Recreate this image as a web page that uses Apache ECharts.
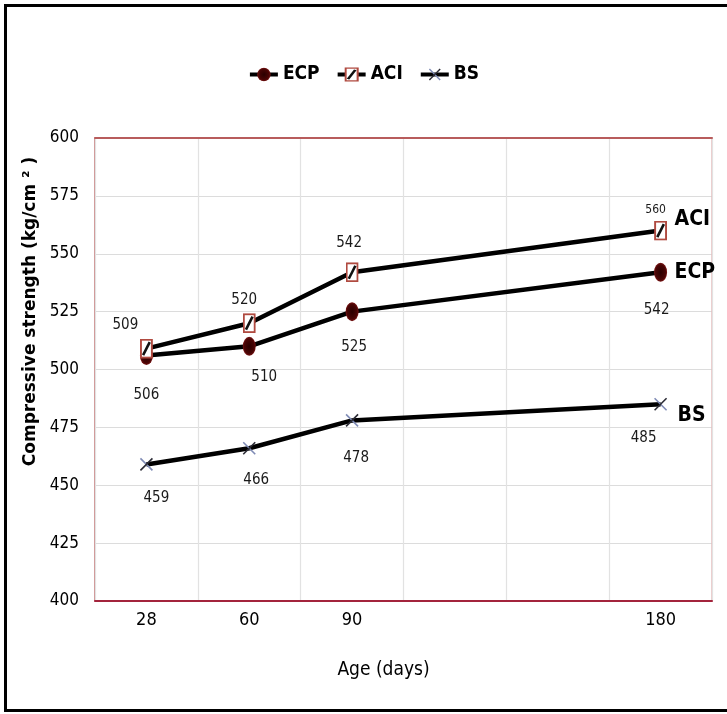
<!DOCTYPE html>
<html>
<head>
<meta charset="utf-8">
<script src="https://cdn.jsdelivr.net/npm/echarts@6/dist/echarts.min.js"></script>
<style>
  html, body { margin: 0; padding: 0; background: #ffffff; }
  #chart { width: 727px; height: 714px; }
</style>
</head>
<body>
<div id="chart"></div>
<script>
// Age categories (blank slots keep the 180-day point spaced out)
const ages = ['28', '60', '90', '', '', '180'];
// Compressive strength, kg/cm2
const ecpValues = [506, 510, 525, null, null, 542];
const aciValues = [509, 520, 542, null, null, 560];
const bsValues  = [459, 466, 478, null, null, 485];
const yTicks = { min: 400, max: 600, step: 25 };

// Value label nudges (px) around each marker
const ecpShift = [[0, 39], [15, 31], [2, 35], null, null, [-4, 38]];
const aciShift = [[-21, -24], [-5, -23], [-3, -29], null, null, [-5, -21]];
const bsShift  = [[10, 34], [7, 32], [4, 38], null, null, [-17, 34]];

const NARROW = "'Liberation Sans Narrow', 'DejaVu Sans Condensed', sans-serif";

function svgSymbol(svg) {
  return 'image://data:image/svg+xml;utf8,' + encodeURIComponent(svg);
}
const ecpMark = svgSymbol(
  '<svg xmlns="http://www.w3.org/2000/svg" width="14" height="20" viewBox="0 0 14 20">' +
  '<defs><radialGradient id="g" cx="50%" cy="50%" r="55%">' +
  '<stop offset="0" stop-color="#2a0000"/><stop offset="0.7" stop-color="#4a0505"/><stop offset="1" stop-color="#8e1c1c"/></radialGradient></defs>' +
  '<ellipse cx="7" cy="10" rx="6.5" ry="9.5" fill="url(#g)"/></svg>');
const aciMark = svgSymbol(
  '<svg xmlns="http://www.w3.org/2000/svg" width="13" height="20" viewBox="0 0 13 20">' +
  '<rect x="1" y="1" width="11" height="18" fill="#ffffff" stroke="#b04a40" stroke-width="2"/>' +
  '<line x1="3.2" y1="16.5" x2="9.8" y2="3.5" stroke="#111111" stroke-width="2.6"/></svg>');
const bsMark = svgSymbol(
  '<svg xmlns="http://www.w3.org/2000/svg" width="16" height="16" viewBox="0 0 16 16">' +
  '<line x1="2" y1="2" x2="14" y2="14" stroke="#7f8bb5" stroke-width="1.6"/>' +
  '<line x1="14" y1="2" x2="2" y2="14" stroke="#2b2b35" stroke-width="1.6"/></svg>');

function points(values, shifts, smallLast) {
  return values.map((v, i) => {
    if (v === null) return null;
    const item = { value: v, label: { offset: shifts[i] } };
    if (smallLast && i === values.length - 1) item.label.fontSize = 12;
    return item;
  });
}

function lineSeries(name, values, shifts, symbol, size, endOffset, smallLast) {
  return {
    name: name,
    type: 'line',
    data: points(values, shifts, smallLast),
    connectNulls: true,
    smooth: false,
    symbol: symbol,
    symbolSize: size,
    lineStyle: { color: '#000000', width: 4.5 },
    itemStyle: { color: '#000000' },
    label: {
      show: true,
      position: 'inside',
      fontFamily: NARROW,
      fontSize: 15,
      color: '#1a1a1a'
    },
    endLabel: {
      show: true,
      formatter: name,
      fontFamily: NARROW,
      fontWeight: 'bold',
      fontSize: 21,
      color: '#000000',
      distance: 12,
      offset: endOffset
    },
    z: 3
  };
}

const chart = echarts.init(document.getElementById('chart'), null, { renderer: 'canvas' });
chart.setOption({
  animation: false,
  backgroundColor: '#ffffff',
  graphic: [{
    type: 'rect',
    shape: { x: 5.5, y: 5.5, width: 740, height: 705 },
    style: { fill: 'none', stroke: '#000000', lineWidth: 3 },
    z: 100
  }],
  legend: {
    top: 60,
    left: 'center',
    itemWidth: 28,
    itemHeight: 18,
    itemGap: 16,
    lineStyle: { width: 4, color: '#000000' },
    textStyle: { fontFamily: NARROW, fontSize: 19, fontWeight: 'bold', color: '#000000' },
    data: ['ECP', 'ACI', 'BS']
  },
  grid: {
    left: 95, right: 15, top: 138, bottom: 113,
    show: false
  },
  xAxis: [{
    type: 'category',
    data: ages,
    boundaryGap: true,
    name: 'Age (days)',
    nameLocation: 'middle',
    nameGap: 60,
    nameTextStyle: { fontFamily: NARROW, fontSize: 19, color: '#000000', padding: [0, 40, 0, 0] },
    axisLine: { lineStyle: { color: '#a3243c', width: 2 } },
    axisTick: { show: false },
    axisLabel: { fontFamily: NARROW, fontSize: 18, color: '#000000', margin: 10 },
    splitLine: { show: true, lineStyle: { color: '#e2e2e2', width: 1.2 } },
    z: 2
  }, {
    // plot-area top edge
    type: 'category',
    data: ages,
    position: 'top',
    boundaryGap: true,
    axisLine: { show: true, lineStyle: { color: '#b85c5c', width: 2 } },
    axisTick: { show: false },
    axisLabel: { show: false },
    splitLine: { show: false },
    z: 2
  }],
  yAxis: [{
    type: 'value',
    min: yTicks.min,
    max: yTicks.max,
    interval: yTicks.step,
    name: 'Compressive strength (kg/cm ² )',
    nameLocation: 'middle',
    nameGap: 43,
    nameTextStyle: {
      fontFamily: "'DejaVu Sans', sans-serif", fontSize: 17, fontWeight: 'bold', color: '#000000',
      padding: [0, 0, 0, 116]
    },
    axisLine: { show: true, lineStyle: { color: '#c07070', width: 1.5 } },
    axisTick: { show: false },
    axisLabel: { fontFamily: NARROW, fontSize: 17, color: '#000000', margin: 16 },
    splitLine: { show: true, lineStyle: { color: '#dcdcdc', width: 1.2 } }
  }, {
    // plot-area right edge
    type: 'value',
    min: yTicks.min,
    max: yTicks.max,
    interval: yTicks.step,
    position: 'right',
    axisLine: { show: true, lineStyle: { color: '#e6bcbc', width: 1.5 } },
    axisTick: { show: false },
    axisLabel: { show: false },
    splitLine: { show: false }
  }],
  series: [
    lineSeries('ECP', ecpValues, ecpShift, ecpMark, [14, 20], [2, 0], false),
    lineSeries('ACI', aciValues, aciShift, aciMark, [13, 20], [2, -11], true),
    lineSeries('BS', bsValues, bsShift, bsMark, [16, 16], [5, 11], false)
  ]
});
</script>
</body>
</html>
